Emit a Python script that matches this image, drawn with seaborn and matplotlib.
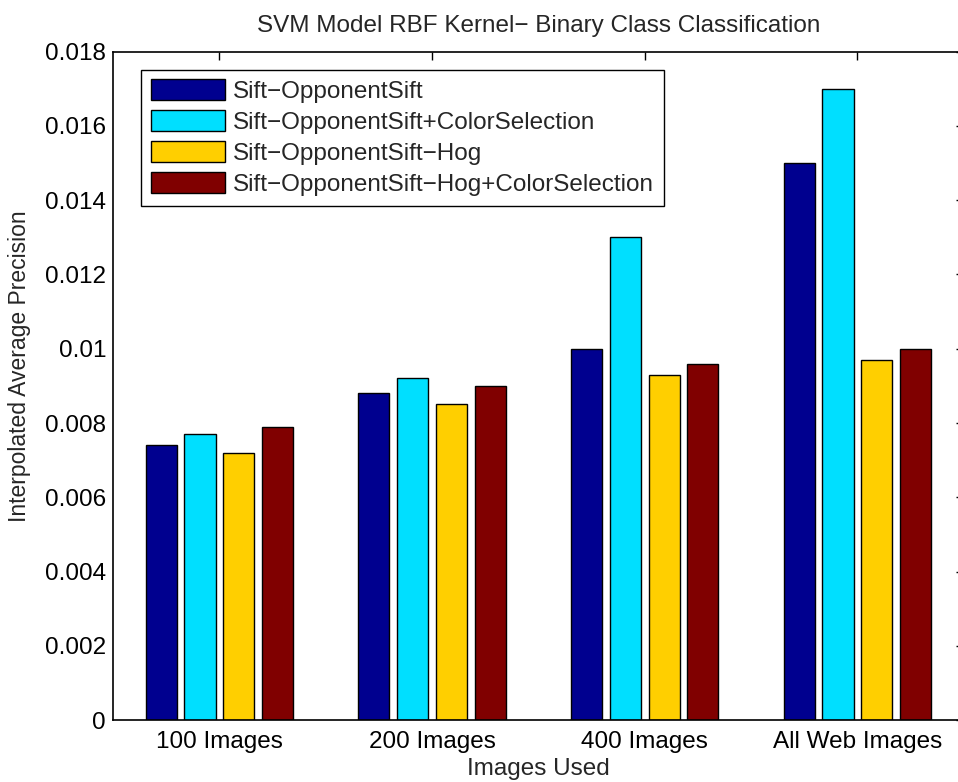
import matplotlib
matplotlib.use("Agg")
import matplotlib.pyplot as plt
import seaborn as sns
import pandas as pd

categories = ["100 Images", "200 Images", "400 Images", "All Web Images"]
series_names = ["Sift\u2212OpponentSift",
                "Sift\u2212OpponentSift+ColorSelection",
                "Sift\u2212OpponentSift\u2212Hog",
                "Sift\u2212OpponentSift\u2212Hog+ColorSelection"]
s1 = [0.0074, 0.0088, 0.0100, 0.0150]
s2 = [0.0077, 0.0092, 0.0130, 0.0170]
s3 = [0.0072, 0.0085, 0.0093, 0.0097]
s4 = [0.0079, 0.0090, 0.0096, 0.0100]
colors = ["#00008F", "#00DFFF", "#FFCF00", "#800000"]
yticks = [0, 0.002, 0.004, 0.006, 0.008, 0.01, 0.012, 0.014, 0.016, 0.018]
ytick_labels = ["0", "0.002", "0.004", "0.006", "0.008", "0.01", "0.012", "0.014", "0.016", "0.018"]

rows = []
for name, vals in zip(series_names, [s1, s2, s3, s4]):
    for c, v in zip(categories, vals):
        rows.append({"cat": c, "series": name, "val": v})
df = pd.DataFrame(rows)

sns.set_style("white")
plt.rcParams['font.family'] = ['Liberation Sans', 'DejaVu Sans']

FS = 17.5
fig = plt.figure(figsize=(9.58, 7.82), dpi=100)
ax = fig.add_axes([0.118, 0.079, 0.888, 0.855])

sns.barplot(data=df, x="cat", y="val", hue="series", order=categories,
            hue_order=series_names, palette=colors, width=0.73, gap=0.2,
            edgecolor="black", linewidth=1.0, saturation=1, ax=ax, errorbar=None)

ax.set_xlim(-0.5, 3.5)
ax.set_ylim(0, 0.018)
ax.set_yticks(yticks)
ax.set_yticklabels(ytick_labels)
ax.tick_params(axis="both", direction="in", length=6, width=1, labelsize=FS,
               top=True, right=True, colors="black", pad=5)
ax.tick_params(axis="x", pad=8)
for sp in ax.spines.values():
    sp.set_visible(True)
    sp.set_color("black")
    sp.set_linewidth(1.2)

ax.set_title("SVM Model RBF Kernel\u2212 Binary Class Classification", fontsize=FS, pad=14)
ax.set_xlabel("Images Used", fontsize=FS)
ax.set_ylabel("Interpolated Average Precision", fontsize=16.5)
ax.xaxis.set_label_coords(0.5, -0.057)
ax.yaxis.set_label_coords(-0.096, 0.53)

leg = ax.legend(loc="upper left", bbox_to_anchor=(0.033, 0.973), fontsize=FS,
                frameon=True, fancybox=False, edgecolor="black", framealpha=1,
                handlelength=3.05, handleheight=0.95, labelspacing=0.29,
                borderpad=0.4, handletextpad=0.33, borderaxespad=0)
leg.get_frame().set_linewidth(1.0)

fig.savefig("out.png", dpi=100)
